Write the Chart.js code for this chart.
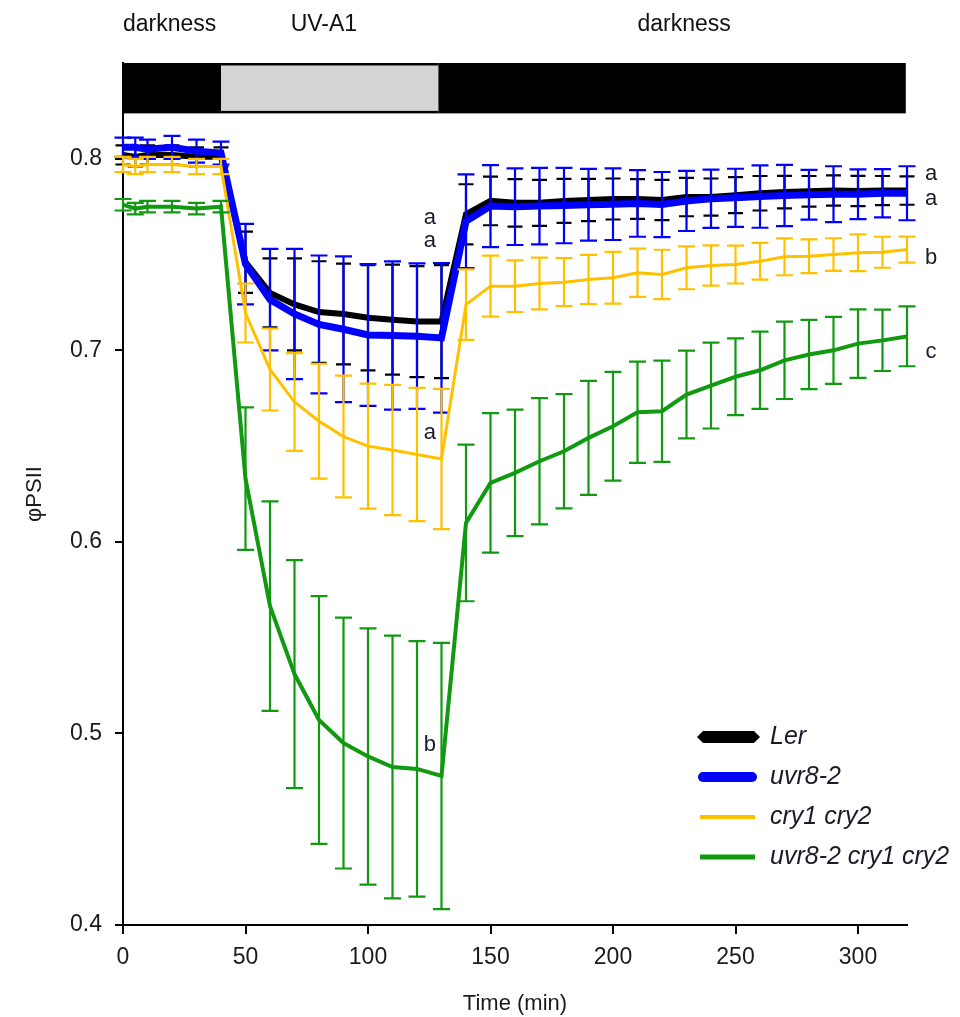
<!DOCTYPE html>
<html>
<head>
<meta charset="utf-8">
<script src="https://cdn.jsdelivr.net/npm/chart.js@4.4.1/dist/chart.umd.min.js"></script>
<style>
  html, body { margin: 0; padding: 0; background: #fff; }
  canvas { display: block; }
</style>
</head>
<body>
<canvas id="c" width="960" height="1017"></canvas>
<script>
// 時間點 (min)
const timeMin = [0, 5, 10, 20, 30, 40, 50, 60, 70, 80, 90, 100, 110, 120, 130,
  140, 150, 160, 170, 180, 190, 200, 210, 220, 230, 240, 250, 260, 270, 280, 290, 300, 310, 320];

const lerMean = [0.802, 0.801, 0.802, 0.802, 0.801, 0.801,
  0.746, 0.730, 0.724, 0.720, 0.719, 0.717, 0.716, 0.715, 0.715,
  0.771, 0.778, 0.777, 0.777, 0.778, 0.7785, 0.779, 0.779, 0.7785, 0.780, 0.780, 0.781, 0.782, 0.7826, 0.783, 0.7834, 0.7832, 0.7834, 0.7834];
const lerSd = [0.005, 0.005, 0.005, 0.005, 0.005, 0.005,
  0.016, 0.018, 0.024, 0.0265, 0.0263, 0.0275, 0.0287, 0.029, 0.0295,
  0.0157, 0.0127, 0.0124, 0.012, 0.0115, 0.011, 0.0107, 0.0104, 0.0105, 0.010, 0.0097, 0.0094, 0.009, 0.0085, 0.008, 0.0079, 0.0079, 0.0076, 0.0074];

const uvrMean = [0.806, 0.806, 0.805, 0.806, 0.804, 0.803,
  0.745, 0.7265, 0.719, 0.7135, 0.711, 0.708, 0.7077, 0.7074, 0.7065,
  0.7674, 0.7753, 0.775, 0.7753, 0.7756, 0.776, 0.7763, 0.7767, 0.7761, 0.778, 0.7791, 0.7796, 0.7803, 0.7808, 0.7812, 0.7815, 0.7815, 0.782, 0.782];
const uvrSd = [0.005, 0.005, 0.005, 0.006, 0.006, 0.006,
  0.021, 0.0265, 0.034, 0.036, 0.038, 0.037, 0.0387, 0.038, 0.039,
  0.0245, 0.0214, 0.020, 0.020, 0.0197, 0.0187, 0.0187, 0.0174, 0.017, 0.0157, 0.0152, 0.0152, 0.0163, 0.016, 0.013, 0.0146, 0.013, 0.0126, 0.0141];

const cryMean = [0.797, 0.796, 0.797, 0.797, 0.796, 0.796,
  0.7195, 0.690, 0.673, 0.663, 0.655, 0.650, 0.648, 0.6456, 0.6433,
  0.7239, 0.7335, 0.7335, 0.7349, 0.7356, 0.737, 0.7379, 0.7405, 0.7396, 0.7431, 0.7443, 0.7448, 0.7465, 0.7488, 0.7491, 0.750, 0.7509, 0.7512, 0.7526];
const crySd = [0.004, 0.004, 0.004, 0.004, 0.004, 0.004,
  0.0154, 0.0214, 0.0255, 0.030, 0.0318, 0.0326, 0.034, 0.0348, 0.0366,
  0.0184, 0.0159, 0.0135, 0.0135, 0.0125, 0.0128, 0.0135, 0.0126, 0.0129, 0.0112, 0.0105, 0.0099, 0.0096, 0.0096, 0.0088, 0.0085, 0.0096, 0.0081, 0.0068];

const tripleMean = [0.776, 0.774, 0.775, 0.775, 0.774, 0.775,
  0.633, 0.5665, 0.531, 0.507, 0.495, 0.488, 0.4825, 0.4815, 0.4778,
  0.6099, 0.6308, 0.636, 0.6421, 0.6473, 0.6543, 0.6604, 0.6677, 0.6682, 0.6769, 0.6816, 0.6862, 0.6896, 0.6948, 0.6978, 0.700, 0.7035, 0.7052, 0.7073];
const tripleSd = [0.003, 0.003, 0.003, 0.003, 0.003, 0.003,
  0.0372, 0.0547, 0.0595, 0.0647, 0.0655, 0.0669, 0.0686, 0.0667, 0.0695,
  0.0409, 0.0364, 0.033, 0.033, 0.0298, 0.0298, 0.0284, 0.0264, 0.0264, 0.0229, 0.0224, 0.020, 0.0202, 0.0202, 0.0181, 0.0175, 0.0179, 0.016, 0.0156];

const seriesLabels = ['Ler', 'uvr8-2', 'cry1 cry2', 'uvr8-2 cry1 cry2'];
const seriesColors = ['#000000', '#0000ff', '#ffc000', '#119911'];
const seriesMeans = [lerMean, uvrMean, cryMean, tripleMean];
const seriesSds = [lerSd, uvrSd, crySd, tripleSd];

// 光照階段 (min)
const phaseStart = [0, 40, 128.8];
const phaseEnd = [40, 128.8, 319.5];
const phaseFill = ['#000000', '#d4d4d4', '#000000'];
const phaseLabels = ['darkness', 'UV-A1', 'darkness'];
const phaseLabelAt = [19, 82, 229];
const phaseBarRange = [0.8237, 0.85];

// 顯著性字母
const letterText = ['a', 'a', 'a', 'b', 'a', 'a', 'b', 'c'];
const letterX = [125.3, 125.3, 125.3, 125.3, 329.8, 329.8, 329.8, 329.8];
const letterY = [0.769, 0.757, 0.657, 0.494, 0.792, 0.779, 0.748, 0.699];

const FONT = "'Liberation Sans', Arial, sans-serif";
const lineWidths = [6, 7, 3, 4];

const phaseBar = {
    id: 'phaseBar',
    beforeDatasetsDraw(chart) {
        const { ctx, scales: { x, y } } = chart;
        const yTop = y.getPixelForValue(phaseBarRange[1]);
        const yBot = y.getPixelForValue(phaseBarRange[0]);
        ctx.save();
        phaseStart.forEach((s, i) => {
            const x0 = x.getPixelForValue(s);
            const x1 = x.getPixelForValue(phaseEnd[i]);
            ctx.fillStyle = '#000';
            ctx.fillRect(x0, yTop, x1 - x0, yBot - yTop);
            if (phaseFill[i] !== '#000000') {
                ctx.fillStyle = phaseFill[i];
                ctx.fillRect(x0, yTop + 2.5, x1 - x0, yBot - yTop - 5);
            }
        });
        ctx.fillStyle = '#111';
        ctx.font = `23px ${FONT}`;
        ctx.textAlign = 'center';
        ctx.textBaseline = 'middle';
        phaseLabels.forEach((t, i) => {
            ctx.fillText(t, x.getPixelForValue(phaseLabelAt[i]), yTop - 38);
        });
        ctx.restore();
    },
};

const errorBars = {
    id: 'errorBars',
    afterDatasetDraw(chart, args) {
        const i = args.index;
        const { ctx, scales: { x, y } } = chart;
        const mean = seriesMeans[i];
        const sd = seriesSds[i];
        ctx.save();
        ctx.strokeStyle = seriesColors[i];
        ctx.lineWidth = 2.2;
        timeMin.forEach((t, k) => {
            const px = x.getPixelForValue(t);
            const top = y.getPixelForValue(mean[k] + sd[k]);
            const bot = y.getPixelForValue(mean[k] - sd[k]);
            const w = i === 0 ? 7.5 : 8.5;
            ctx.beginPath();
            ctx.moveTo(px, top); ctx.lineTo(px, bot);
            ctx.moveTo(px - w, top); ctx.lineTo(px + w, top);
            ctx.moveTo(px - w, bot); ctx.lineTo(px + w, bot);
            ctx.stroke();
        });
        ctx.restore();
    },
};

const annotations = {
    id: 'annotations',
    afterDraw(chart) {
        const { ctx, scales: { x, y }, chartArea } = chart;
        ctx.save();
        ctx.fillStyle = '#1a1a2a';
        ctx.font = `22px ${FONT}`;
        ctx.textAlign = 'center';
        ctx.textBaseline = 'middle';
        letterText.forEach((t, i) => {
            ctx.fillText(t, x.getPixelForValue(letterX[i]), y.getPixelForValue(letterY[i]));
        });

        // 圖例
        const lx = chartArea.right - 210;
        let ly = chartArea.bottom - 188;
        ctx.textAlign = 'left';
        ctx.font = `italic 25px ${FONT}`;
        seriesLabels.forEach((label, i) => {
            ctx.fillStyle = seriesColors[i];
            ctx.strokeStyle = seriesColors[i];
            if (i === 0) {
                ctx.beginPath();
                ctx.moveTo(lx, ly);
                ctx.lineTo(lx + 6, ly - 6);
                ctx.lineTo(lx + 57, ly - 6);
                ctx.lineTo(lx + 63, ly);
                ctx.lineTo(lx + 57, ly + 6);
                ctx.lineTo(lx + 6, ly + 6);
                ctx.closePath();
                ctx.fill();
            } else {
                ctx.lineWidth = [0, 10, 4, 5][i];
                ctx.lineCap = i === 1 ? 'round' : 'butt';
                ctx.beginPath();
                ctx.moveTo(lx + (i === 1 ? 6 : 3), ly);
                ctx.lineTo(lx + (i === 1 ? 55 : 58), ly);
                ctx.stroke();
            }
            ctx.fillStyle = '#1a1a2a';
            ctx.fillText(label, lx + 73, ly);
            ly += 40;
        });
        ctx.restore();
    },
};

const datasets = seriesLabels.map((label, i) => ({
    label,
    data: timeMin.map((t, k) => ({ x: t, y: seriesMeans[i][k] })),
    borderColor: seriesColors[i],
    backgroundColor: seriesColors[i],
    borderWidth: lineWidths[i],
    pointRadius: 0,
    tension: 0,
    order: 4 - i,
}));

new Chart(document.getElementById('c'), {
    type: 'line',
    data: { datasets },
    options: {
        responsive: false,
        animation: false,
        devicePixelRatio: 1,
        layout: { padding: { top: 63, right: 53, left: 0, bottom: 0 } },
        scales: {
            x: {
                type: 'linear',
                min: 0,
                max: 320,
                afterFit(s) { s.height = 92; },
                ticks: {
                    stepSize: 50,
                    includeBounds: false,
                    color: '#1a1a1a',
                    font: { family: FONT, size: 23 },
                    padding: 10,
                    maxRotation: 0,
                },
                grid: { drawOnChartArea: false, tickLength: 9, color: '#000', lineWidth: 2 },
                border: { color: '#000', width: 2 },
                title: {
                    display: true,
                    text: 'Time (min)',
                    color: '#1a1a1a',
                    font: { family: FONT, size: 22 },
                    padding: { top: 0, bottom: 0 },
                },
            },
            y: {
                min: 0.4,
                max: 0.85,
                afterFit(s) { s.width = 123; },
                ticks: {
                    stepSize: 0.1,
                    includeBounds: false,
                    color: '#1a1a1a',
                    font: { family: FONT, size: 23 },
                    padding: 13,
                    callback: v => v.toFixed(1),
                },
                grid: { drawOnChartArea: false, tickLength: 8, color: '#000', lineWidth: 2 },
                border: { color: '#000', width: 2 },
                title: {
                    display: true,
                    text: 'φPSII',
                    color: '#1a1a1a',
                    font: { family: FONT, size: 22 },
                    padding: { top: 22, bottom: 0 },
                },
            },
        },
        plugins: {
            legend: { display: false },
            tooltip: { enabled: false },
        },
    },
    plugins: [phaseBar, errorBars, annotations],
});
</script>
</body>
</html>
